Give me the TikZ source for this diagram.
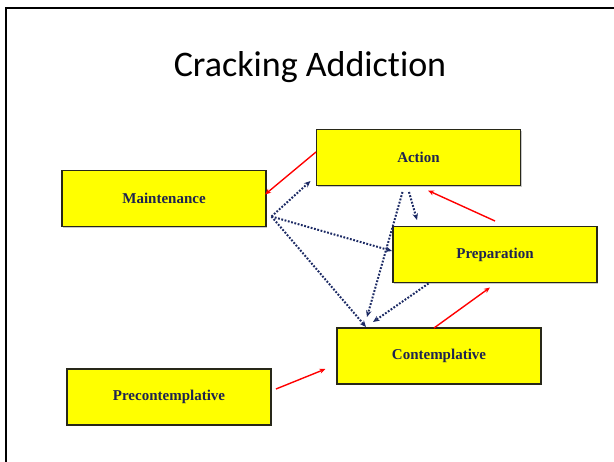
\documentclass[tikz,border=0pt]{standalone}
\usepackage{fontspec}
\setmainfont{Liberation Serif}
\newfontfamily\titlefont[RawFeature={-liga;-clig;-dlig}]{Carlito}
\usetikzlibrary{arrows.meta,shadows}

\definecolor{boxfill}{RGB}{255,255,0}
\definecolor{boxline}{RGB}{40,40,25}
\definecolor{labelnavy}{RGB}{30,35,80}
\definecolor{flownavy}{RGB}{28,42,100}
\definecolor{flowred}{RGB}{255,0,0}

\tikzset{
  stagebox/.style={draw=boxline, line width=1.2pt, fill=boxfill,
    minimum width=204pt, minimum height=56pt, inner sep=0pt,
    font=\fontsize{15}{18}\selectfont\bfseries, text=labelnavy,
    drop shadow={shadow xshift=1.2pt, shadow yshift=-1.5pt, fill=black!35, opacity=0.6}},
  redflow/.style={draw=flowred, line width=1.4pt,
    -{Stealth[length=6pt,width=5pt]}},
  dotflow/.style={draw=flownavy, line width=2pt, dash pattern=on 1.8pt off 1.6pt,
    -{Stealth[length=6.5pt,width=5.5pt]}}
}

\begin{document}
\begin{tikzpicture}[x=1pt,y=-1pt]
  \useasboundingbox (0,0) rectangle (614,462);
  \fill[white] (0,0) rectangle (614,462);

  % slide frame (top and left edges)
  \draw[black, line width=2pt] (5.5,462) -- (5.5,8) -- (614,8);

  % title (t and i kept apart, no ligature)
  \node[anchor=base, font=\titlefont\fontsize{36}{40}\selectfont] (title) at (310,77) {Cracking Addict\kern0pt ion};

  % stages
  \node[stagebox] (act)  at (418.5,157.5) {Action};
  \node[stagebox] (mnt)  at (164,198.5)   {Maintenance};
  \node[stagebox] (prep) at (495,254.5)   {Preparation};
  \node[stagebox] (cont) at (439,356)     {Contemplative};
  \node[stagebox] (pre)  at (169,397)     {Precontemplative};

  % connector end points
  \coordinate (hub) at (271.5,216.5);
  \coordinate (actL) at (316,152);
  \coordinate (mntR) at (265,194.5);
  \coordinate (prepTop) at (495,221);
  \coordinate (actB) at (428,190.5);
  \coordinate (contTop) at (434,328);
  \coordinate (prepB) at (490,287.5);
  \coordinate (preR) at (276,389);
  \coordinate (contL) at (325.5,369);
  \coordinate (hubToAct) at (310.5,181);
  \coordinate (hubToPrep) at (392,251);
  \coordinate (hubToCont) at (366,327);
  \coordinate (actOutA) at (402.5,192);
  \coordinate (actOutB) at (409,192);
  \coordinate (contTopA) at (367,317);
  \coordinate (prepIn) at (417,220);
  \coordinate (prepOut) at (428.5,283.5);
  \coordinate (contTopB) at (373,322);

  % red transitions
  \draw[redflow] (actL) -- (mntR);
  \draw[redflow] (prepTop) -- (actB);
  \draw[redflow] (contTop) -- (prepB);
  \draw[redflow] (preR) -- (contL);

  % dotted transitions
  \draw[dotflow] (hub) -- (hubToAct);
  \draw[dotflow] (hub) -- (hubToPrep);
  \draw[dotflow] (hub) -- (hubToCont);
  \draw[dotflow] (actOutA) -- (contTopA);
  \draw[dotflow] (actOutB) -- (prepIn);
  \draw[dotflow] (prepOut) -- (contTopB);
\end{tikzpicture}
\end{document}
